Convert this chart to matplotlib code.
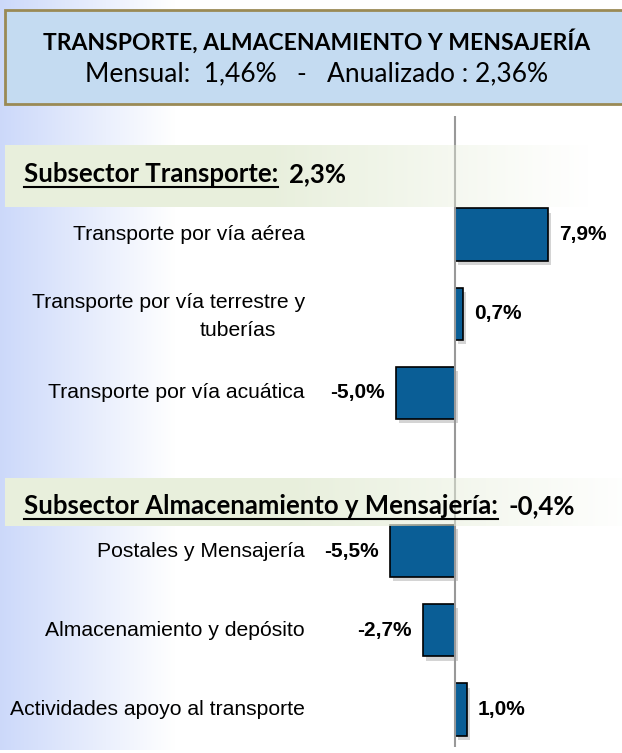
import matplotlib
matplotlib.use('Agg')
import matplotlib.pyplot as plt
import matplotlib.patheffects as pe
from matplotlib.patches import Rectangle
import numpy as np

# datos del grafico
titulo = 'TRANSPORTE, ALMACENAMIENTO Y MENSAJERÍA'
subtitulo = 'Mensual:  1,46%   -   Anualizado : 2,36%'

subsectores = ['Subsector Transporte:', 'Subsector Almacenamiento y Mensajería:']
subsector_valores = [2.3, -0.4]

categorias = ['Transporte por vía aérea',
              'Transporte por vía terrestre y\ntuberías',
              'Transporte por vía acuática',
              'Postales y Mensajería',
              'Almacenamiento y depósito',
              'Actividades apoyo al transporte']
valores = [7.9, 0.7, -5.0, -5.5, -2.7, 1.0]
posiciones = [0, 1, 2, 4, 5, 6]


def pct(v):
    return ('%.1f%%' % v).replace('.', ',')


NARROW = ['Liberation Sans Narrow', 'Liberation Sans', 'DejaVu Sans']
CALIBRI = ['Lato', 'DejaVu Sans']

W, H = 622, 753
fig = plt.figure(figsize=(W / 100, H / 100), dpi=100)

# fondo (coordenadas en pixeles)
fondo = fig.add_axes([0, 0, 1, 1], zorder=0)
fondo.axis('off')

t = np.linspace(0, 1, 256)[None, :, None]
azul = np.array([0.80, 0.85, 0.98])
fondo.imshow(azul * (1 - t) + t, extent=(0, 175, 750, 0), aspect='auto')

# recuadro del titulo (sin borde derecho)
fondo.add_patch(Rectangle((5, 9.5), W - 5, 94.5, facecolor='#c4dbf1',
                          edgecolor='none'))
fondo.plot([W - 0.5, 5, 5, W - 0.5], [9.5, 9.5, 104, 104], color='#9a8a55', lw=2,
           solid_joinstyle='miter', solid_capstyle='butt')
fondo.set_xlim(0, W)
fondo.set_ylim(H, 0)
fondo.text(317, 41, titulo, ha='center', va='center', family=CALIBRI,
           weight='bold', fontsize=16.5)
fondo.text(317, 74, subtitulo, ha='center', va='center', family=CALIBRI,
           fontsize=19)

# barras
escala = 11.8   # pixeles por punto porcentual
cero = 455
paso = 79.17
y0 = 234.5
ax = fig.add_axes([0, 0, 1, 1], zorder=1)
ax.patch.set_visible(False)
ax.set_xlim(-cero / escala, (W - cero) / escala)
ax.set_ylim((H - y0) / paso, -y0 / paso)
ax.axis('off')

barras = ax.barh(posiciones, valores, height=0.66, color='#0a5e96',
                 edgecolor='black', linewidth=1.2, zorder=3)
for b in barras:
    b.set_path_effects([pe.SimplePatchShadow(offset=(2, -3), shadow_rgbFace='#555555',
                                             alpha=0.25), pe.Normal()])
ax.vlines(0, (116 - y0) / paso, (747 - y0) / paso, color='#999999', lw=1.5, zorder=4)

ax.bar_label(barras, labels=[pct(v) for v in valores], padding=8,
             fontsize=15, fontweight='bold', family=NARROW)

fs_cat = 15.2
for c, p in zip(categorias, posiciones):
    if '\n' in c:
        l1, l2 = c.split('\n')
        ax.annotate(l1, xy=(0, p), xytext=(-150, 11), textcoords='offset pixels',
                    ha='right', va='center', fontsize=fs_cat, family=NARROW)
        ax.annotate(l2, xy=(0, p), xytext=(-217, -17), textcoords='offset pixels',
                    ha='center', va='center', fontsize=fs_cat, family=NARROW)
    else:
        ax.annotate(c, xy=(0, p), xytext=(-150, 0), textcoords='offset pixels',
                    ha='right', va='center', fontsize=fs_cat, family=NARROW)

# franjas de subsector
ov = fig.add_axes([0, 0, 1, 1], zorder=2)
ov.patch.set_visible(False)
ov.axis('off')

verde = np.array([0.91, 0.94, 0.865])
franjas = [(145, 207, 5, 590, 0.45), (478, 526, 5, 640, 0.45)]
for (ya, yb, xa, xb, corte) in franjas:
    s = np.linspace(0, 1, 256)
    alfa = np.clip(1 - (s - corte) / (1 - corte), 0, 1)
    rgba = np.zeros((1, 256, 4))
    rgba[0, :, :3] = verde
    rgba[0, :, 3] = alfa
    ov.imshow(rgba, extent=(xa, xb, yb, ya), aspect='auto')

bases = [182, 514]
textos = []
for nombre, yb in zip(subsectores, bases):
    textos.append(ov.text(24, yb, nombre, ha='left', va='baseline', family=CALIBRI,
                          weight='bold', fontsize=18.5))
ov.set_xlim(0, W)
ov.set_ylim(H, 0)

fig.canvas.draw()
r = fig.canvas.get_renderer()
inv = ov.transData.inverted()
for tx, v, yb in zip(textos, subsector_valores, bases):
    bb = tx.get_window_extent(r)
    x0 = inv.transform((bb.x0, bb.y0))[0]
    x1 = inv.transform((bb.x1, bb.y0))[0]
    ov.plot([x0, x1], [yb + 5, yb + 5], color='black', lw=1.5)
    ov.text(x1 + 11, yb, pct(v), ha='left', va='baseline', family=CALIBRI,
            weight='bold', fontsize=18.5)

fig.savefig('out.png', dpi=100)
